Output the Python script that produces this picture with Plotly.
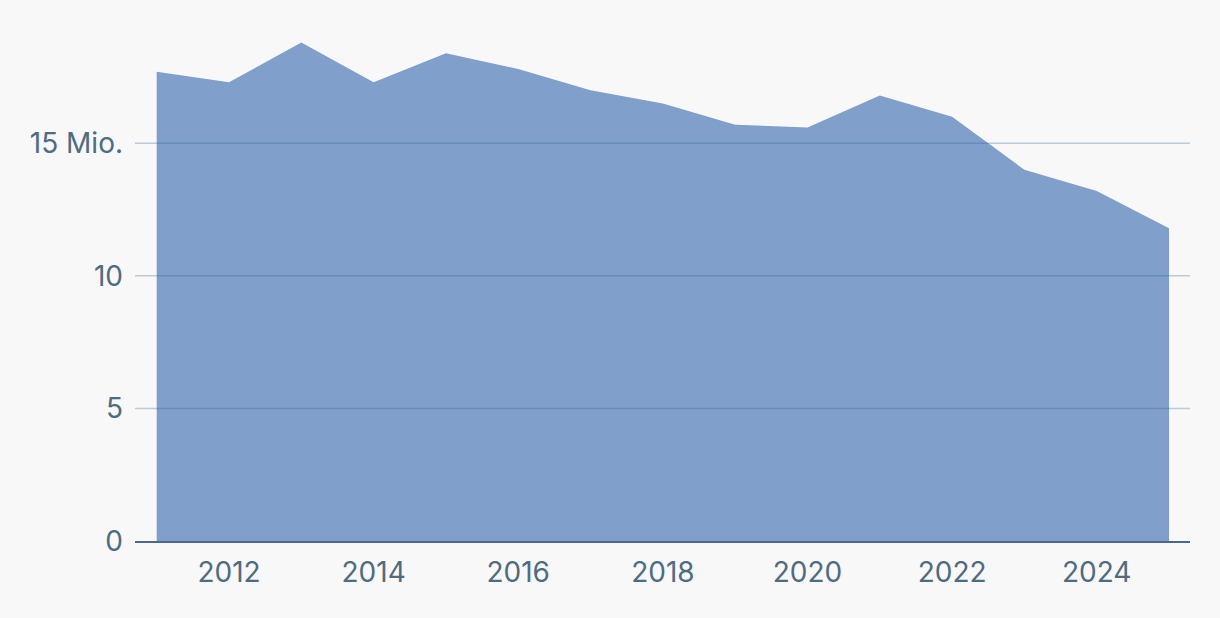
import plotly.graph_objects as go

# Data (millions)
years = [2011, 2012, 2013, 2014, 2015, 2016, 2017, 2018, 2019, 2020, 2021, 2022, 2023, 2024, 2025]
values = [17.7, 17.3, 18.8, 17.3, 18.4, 17.8, 17.0, 16.5, 15.7, 15.6, 16.8, 16.0, 14.0, 13.2, 11.8]

y_tickvals = [0, 5, 10, 15]
y_ticktext = ["0", "5", "10", "15 Mio."]
x_tickvals = [2012, 2014, 2016, 2018, 2020, 2022, 2024]

label_color = "#4f6b80"

fig = go.Figure()

fig.add_trace(go.Scatter(
    x=years,
    y=values,
    mode="none",
    fill="tozeroy",
    fillcolor="#809fcb",
    hoverinfo="x+y",
    showlegend=False
))

# Gridlines sit on top of the area in the reference
for v in y_tickvals[1:]:
    fig.add_shape(type="line", xref="paper", yref="y",
                  x0=0, x1=1, y0=v, y1=v,
                  line=dict(color="rgba(40,90,140,0.29)", width=1.5),
                  layer="above")

fig.update_layout(
    width=1220,
    height=618,
    margin=dict(l=135, r=30, t=24, b=77),
    paper_bgcolor="#f8f8f8",
    plot_bgcolor="#f8f8f8",
    font=dict(family="Inter", size=28, color=label_color),
    dragmode="pan"
)

fig.update_xaxes(
    range=[2010.7, 2025.29],
    tickvals=x_tickvals,
    showgrid=False,
    zeroline=False,
    showline=True,
    linecolor="#4a6a85",
    linewidth=2,
    ticks="",
    ticklabelstandoff=5
)

fig.update_yaxes(
    range=[0, 19.5],
    tickvals=y_tickvals,
    ticktext=y_ticktext,
    showgrid=False,
    zeroline=False,
    ticks="",
    ticklabelstandoff=11
)

# drop the page's default body margin so the chart fills the window
fig.write_html("out.html", config={"displayModeBar": False},
               post_script="document.body.style.margin='0';")
